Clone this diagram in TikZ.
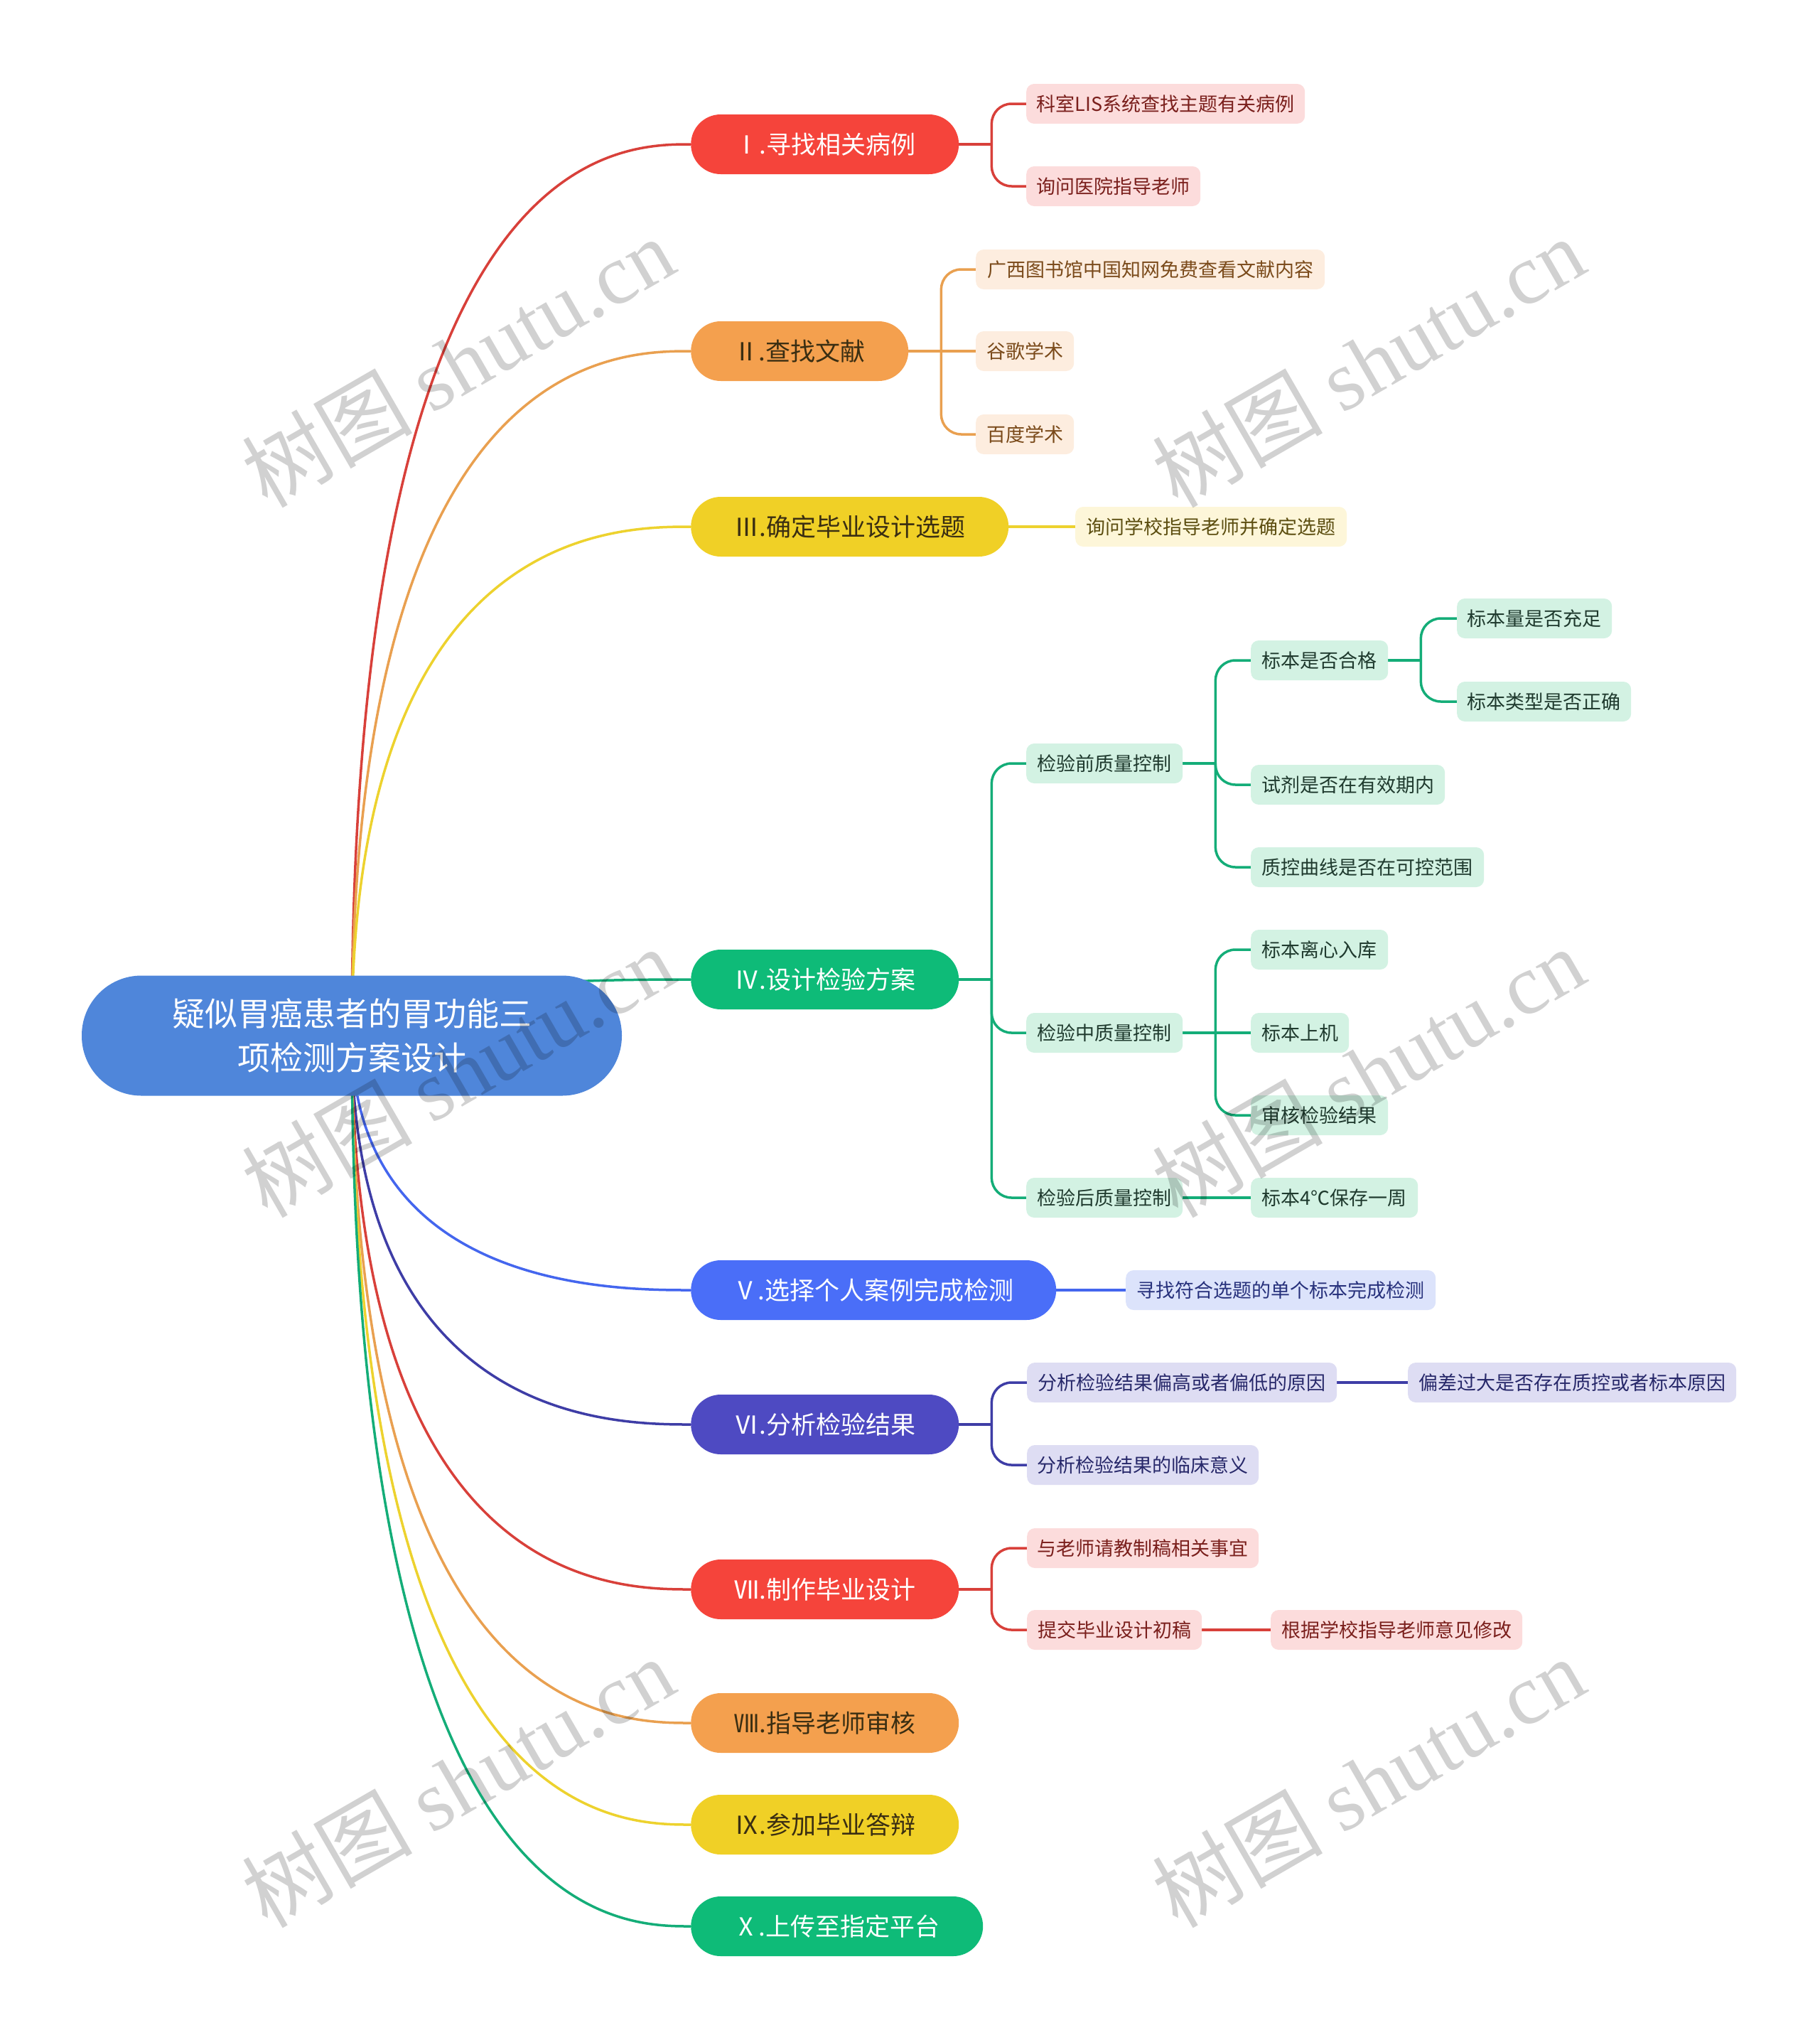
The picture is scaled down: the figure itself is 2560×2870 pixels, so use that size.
\documentclass[tikz,border=0pt]{standalone}
\usepackage{fontspec}
\setmainfont{Noto Sans CJK SC}
\newfontfamily\wmlatin{Liberation Serif}
\usetikzlibrary{calc,backgrounds}
\definecolor{rootc}{HTML}{4F86DA}
\definecolor{redf}{HTML}{F5443B}
\definecolor{redl}{HTML}{D8403A}
\definecolor{redc}{HTML}{FCDCDC}
\definecolor{redt}{HTML}{7A1F1C}
\definecolor{orgf}{HTML}{F4A04E}
\definecolor{orgl}{HTML}{E9A050}
\definecolor{orgc}{HTML}{FDEDDF}
\definecolor{orgt}{HTML}{7A4A1A}
\definecolor{yelf}{HTML}{F0D026}
\definecolor{yell}{HTML}{EDD22E}
\definecolor{yelc}{HTML}{FDF6D9}
\definecolor{yelt}{HTML}{5C4E10}
\definecolor{grnf}{HTML}{0EBB78}
\definecolor{grnl}{HTML}{14AD78}
\definecolor{grnc}{HTML}{D3F2E3}
\definecolor{grnt}{HTML}{1F3A2E}
\definecolor{bluf}{HTML}{4A6EF8}
\definecolor{blul}{HTML}{4466EE}
\definecolor{bluc}{HTML}{DCE3FB}
\definecolor{blut}{HTML}{27317C}
\definecolor{indf}{HTML}{4E4AC2}
\definecolor{indl}{HTML}{3E3DA6}
\definecolor{indc}{HTML}{DEDDF3}
\definecolor{indt}{HTML}{27286A}
\definecolor{darkt}{HTML}{3A2E12}
\tikzset{
  rootnode/.style={rounded corners=84pt, minimum width=760pt, minimum height=169pt, inner sep=0pt,
    fill=rootc, text=white, align=center, font=\fontsize{46}{62}\selectfont},
  mainnode/.style={anchor=west, rounded corners=42pt, minimum height=84pt, inner sep=0pt,
    font=\fontsize{35}{42}\selectfont},
  subnode/.style={anchor=west, rounded corners=11pt, minimum height=56pt, inner sep=0pt,
    font=\fontsize{27}{32}\selectfont},
  redsub/.style={subnode, fill=redc, text=redt},
  orgsub/.style={subnode, fill=orgc, text=orgt},
  yelsub/.style={subnode, fill=yelc, text=yelt},
  grnsub/.style={subnode, fill=grnc, text=grnt},
  blusub/.style={subnode, fill=bluc, text=blut},
  indsub/.style={subnode, fill=indc, text=indt},
  conn/.style={line width=3.5pt},
  bracket/.style={line width=3.5pt, rounded corners=28pt},
  wm/.style={rotate=30, text=black, text opacity=0.18, inner sep=0pt, font=\fontsize{120}{120}\selectfont}
}
\newcommand\mainlink[2]{\draw[conn,#1] (root.center) .. controls (root.center |- #2.west) and ($(root.center |- #2.west)!0.78!(#2.west)$) .. (#2.west);}
\begin{document}
\begin{tikzpicture}[x=1pt,y=-1pt]
\useasboundingbox (0,0) rectangle (2560,2870);
% root
\node[rootnode] (root) at (495,1457) {疑似胃癌患者的胃功能三\\项检测方案设计};
% main branches
\node[mainnode, fill=redf, text=white, minimum width=377pt] (I) at (972,203) {Ⅰ.寻找相关病例};
\node[mainnode, fill=orgf, text=darkt, minimum width=306pt] (II) at (972,494) {Ⅱ.查找文献};
\node[mainnode, fill=yelf, text=darkt, minimum width=447pt] (III) at (972,741) {Ⅲ.确定毕业设计选题};
\node[mainnode, fill=grnf, text=white, minimum width=377pt] (IV) at (972,1378) {Ⅳ.设计检验方案};
\node[mainnode, fill=bluf, text=white, minimum width=514pt] (V) at (972,1815) {Ⅴ.选择个人案例完成检测};
\node[mainnode, fill=indf, text=white, minimum width=377pt] (VI) at (972,2004) {Ⅵ.分析检验结果};
\node[mainnode, fill=redf, text=white, minimum width=377pt] (VII) at (972,2236) {Ⅶ.制作毕业设计};
\node[mainnode, fill=orgf, text=darkt, minimum width=377pt] (VIII) at (972,2424) {Ⅷ.指导老师审核};
\node[mainnode, fill=yelf, text=darkt, minimum width=377pt] (IX) at (972,2567) {Ⅸ.参加毕业答辩};
\node[mainnode, fill=grnf, text=white, minimum width=411pt] (X) at (972,2710) {Ⅹ.上传至指定平台};
% sub nodes
\node[redsub, minimum width=392pt] (I1) at (1444,146) {科室LIS系统查找主题有关病例};
\node[redsub, minimum width=245pt] (I2) at (1444,262) {询问医院指导老师};
\node[orgsub, minimum width=491pt] (II1) at (1373,379) {广西图书馆中国知网免费查看文献内容};
\node[orgsub, minimum width=138pt] (II2) at (1373,494) {谷歌学术};
\node[orgsub, minimum width=138pt] (II3) at (1373,611) {百度学术};
\node[yelsub, minimum width=382pt] (III1) at (1513,741) {询问学校指导老师并确定选题};
\node[grnsub, minimum width=220pt] (IV1) at (1444,1074) {检验前质量控制};
\node[grnsub, minimum width=220pt] (IV2) at (1444,1453) {检验中质量控制};
\node[grnsub, minimum width=220pt] (IV3) at (1444,1685) {检验后质量控制};
\node[grnsub, minimum width=193pt] (IV11) at (1760,929) {标本是否合格};
\node[grnsub, minimum width=273pt] (IV12) at (1760,1104) {试剂是否在有效期内};
\node[grnsub, minimum width=328pt] (IV13) at (1760,1220) {质控曲线是否在可控范围};
\node[grnsub, minimum width=218pt] (IV111) at (2050,870) {标本量是否充足};
\node[grnsub, minimum width=245pt] (IV112) at (2050,987) {标本类型是否正确};
\node[grnsub, minimum width=193pt] (IV21) at (1760,1336) {标本离心入库};
\node[grnsub, minimum width=138pt] (IV22) at (1760,1453) {标本上机};
\node[grnsub, minimum width=193pt] (IV23) at (1760,1569) {审核检验结果};
\node[grnsub, minimum width=235pt] (IV31) at (1760,1685) {标本4℃保存一周};
\node[blusub, minimum width=436pt] (V1) at (1584,1815) {寻找符合选题的单个标本完成检测};
\node[indsub, minimum width=436pt] (VI1) at (1445,1945) {分析检验结果偏高或者偏低的原因};
\node[indsub, minimum width=462pt] (VI11) at (1981,1945) {偏差过大是否存在质控或者标本原因};
\node[indsub, minimum width=326pt] (VI2) at (1445,2061) {分析检验结果的临床意义};
\node[redsub, minimum width=326pt] (VII1) at (1445,2178) {与老师请教制稿相关事宜};
\node[redsub, minimum width=246pt] (VII2) at (1445,2293) {提交毕业设计初稿};
\node[redsub, minimum width=354pt] (VII21) at (1788,2293) {根据学校指导老师意见修改};
% junctions
\coordinate (jI) at ($(I.east)+(46,0)$);
\coordinate (jII) at ($(II.east)+(46,0)$);
\coordinate (jIV) at ($(IV.east)+(46,0)$);
\coordinate (jIV1) at ($(IV1.east)+(46,0)$);
\coordinate (jIV11) at ($(IV11.east)+(46,0)$);
\coordinate (jIV2) at ($(IV2.east)+(46,0)$);
\coordinate (jVI) at ($(VI.east)+(46,0)$);
\coordinate (jVII) at ($(VII.east)+(46,0)$);
\begin{pgfonlayer}{background}
\mainlink{redl}{I}
\mainlink{orgl}{II}
\mainlink{yell}{III}
\mainlink{grnl}{IV}
\mainlink{blul}{V}
\mainlink{indl}{VI}
\mainlink{redl}{VII}
\mainlink{orgl}{VIII}
\mainlink{yell}{IX}
\mainlink{grnl}{X}
% I
\draw[conn,redl] (I.east) -- (jI);
\draw[bracket,redl] (jI) |- (I1.west);
\draw[bracket,redl] (jI) |- (I2.west);
% II
\draw[conn,orgl] (II.east) -- (II2.west);
\draw[bracket,orgl] (jII) |- (II1.west);
\draw[bracket,orgl] (jII) |- (II3.west);
% III
\draw[conn,yell] (III.east) -- (III1.west);
% IV
\draw[conn,grnl] (IV.east) -- (jIV);
\draw[bracket,grnl] (jIV) |- (IV1.west);
\draw[bracket,grnl] (jIV) |- (IV2.west);
\draw[bracket,grnl] (jIV) |- (IV3.west);
\draw[conn,grnl] (IV1.east) -- (jIV1);
\draw[bracket,grnl] (jIV1) |- (IV11.west);
\draw[bracket,grnl] (jIV1) |- (IV12.west);
\draw[bracket,grnl] (jIV1) |- (IV13.west);
\draw[conn,grnl] (IV11.east) -- (jIV11);
\draw[bracket,grnl] (jIV11) |- (IV111.west);
\draw[bracket,grnl] (jIV11) |- (IV112.west);
\draw[conn,grnl] (IV2.east) -- (IV22.west);
\draw[bracket,grnl] (jIV2) |- (IV21.west);
\draw[bracket,grnl] (jIV2) |- (IV23.west);
\draw[conn,grnl] (IV3.east) -- (IV31.west);
% V
\draw[conn,blul] (V.east) -- (V1.west);
% VI
\draw[conn,indl] (VI.east) -- (jVI);
\draw[bracket,indl] (jVI) |- (VI1.west);
\draw[bracket,indl] (jVI) |- (VI2.west);
\draw[conn,indl] (VI1.east) -- (VI11.west);
% VII
\draw[conn,redl] (VII.east) -- (jVII);
\draw[bracket,redl] (jVII) |- (VII1.west);
\draw[bracket,redl] (jVII) |- (VII2.west);
\draw[conn,redl] (VII2.east) -- (VII21.west);
\end{pgfonlayer}
% watermarks
\node[wm] (wm1) at (644,509) {树图 {\wmlatin shutu.cn}};
\node[wm] (wm2) at (1925,509) {树图 {\wmlatin shutu.cn}};
\node[wm] (wm3) at (644,1508) {树图 {\wmlatin shutu.cn}};
\node[wm] (wm4) at (1925,1508) {树图 {\wmlatin shutu.cn}};
\node[wm] (wm5) at (644,2507) {树图 {\wmlatin shutu.cn}};
\node[wm] (wm6) at (1925,2507) {树图 {\wmlatin shutu.cn}};
\end{tikzpicture}
\end{document}
